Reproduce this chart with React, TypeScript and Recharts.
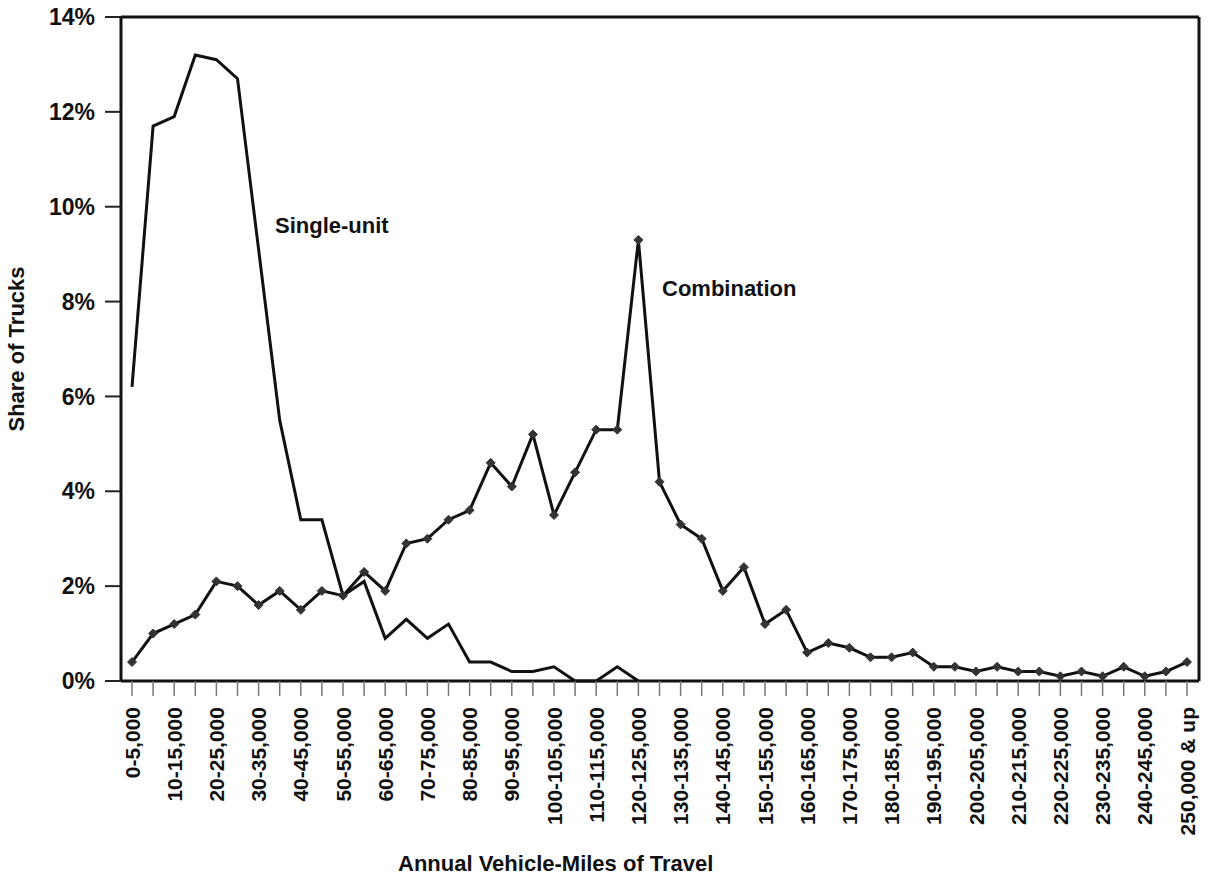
import { Line, LineChart, XAxis, YAxis } from "recharts";

const FONT = '"Liberation Sans", Arial, Helvetica, sans-serif';
const INK = "#111";

const CATEGORIES = [
  "0-5,000", "5-10,000", "10-15,000", "15-20,000", "20-25,000", "25-30,000",
  "30-35,000", "35-40,000", "40-45,000", "45-50,000", "50-55,000", "55-60,000",
  "60-65,000", "65-70,000", "70-75,000", "75-80,000", "80-85,000", "85-90,000",
  "90-95,000", "95-100,000", "100-105,000", "105-110,000", "110-115,000", "115-120,000",
  "120-125,000", "125-130,000", "130-135,000", "135-140,000", "140-145,000", "145-150,000",
  "150-155,000", "155-160,000", "160-165,000", "165-170,000", "170-175,000", "175-180,000",
  "180-185,000", "185-190,000", "190-195,000", "195-200,000", "200-205,000", "205-210,000",
  "210-215,000", "215-220,000", "220-225,000", "225-230,000", "230-235,000", "235-240,000",
  "240-245,000", "245-250,000", "250,000 & up",
];

// share of trucks, percent
const SINGLE_UNIT = [
  6.2, 11.7, 11.9, 13.2, 13.1, 12.7, 9.1, 5.5, 3.4, 3.4, 1.8, 2.1, 0.9,
  1.3, 0.9, 1.2, 0.4, 0.4, 0.2, 0.2, 0.3, 0, 0, 0.3, 0,
];

const COMBINATION = [
  0.4, 1.0, 1.2, 1.4, 2.1, 2.0, 1.6, 1.9, 1.5, 1.9, 1.8, 2.3, 1.9,
  2.9, 3.0, 3.4, 3.6, 4.6, 4.1, 5.2, 3.5, 4.4, 5.3, 5.3, 9.3, 4.2,
  3.3, 3.0, 1.9, 2.4, 1.2, 1.5, 0.6, 0.8, 0.7, 0.5, 0.5, 0.6, 0.3,
  0.3, 0.2, 0.3, 0.2, 0.2, 0.1, 0.2, 0.1, 0.3, 0.1, 0.2, 0.4,
];

const Y_TICKS = [0, 2, 4, 6, 8, 10, 12, 14];

const data = CATEGORIES.map((name, i) => ({
  name,
  single: i < SINGLE_UNIT.length ? SINGLE_UNIT[i] : null,
  combo: COMBINATION[i],
}));

function XTick(props: any) {
  const { x, y, payload, index } = props;
  // every category gets a tick mark, only every other one a label
  if (index % 2 !== 0) return <g />;
  return (
    <text
      x={x}
      y={y}
      transform={`rotate(-90, ${x}, ${y})`}
      textAnchor="end"
      dominantBaseline="central"
      fontSize={21}
      fontWeight="bold"
      fontFamily={FONT}
      fill={INK}
    >
      {payload.value}
    </text>
  );
}

function Diamond(props: any) {
  const { cx, cy } = props;
  if (cx == null || cy == null) return <g />;
  const r = 4.5;
  return (
    <path
      d={`M${cx},${cy - r}L${cx + r},${cy}L${cx},${cy + r}L${cx - r},${cy}Z`}
      fill="#333"
      stroke="#333"
      strokeWidth={1}
    />
  );
}

const textStyle: React.CSSProperties = {
  position: "absolute",
  fontFamily: FONT,
  fontWeight: "bold",
  fontSize: 22,
  lineHeight: "22px",
  color: INK,
  whiteSpace: "nowrap",
};

export default function App() {
  return (
    <div style={{ position: "absolute", left: 0, top: 0, width: 1208, height: 879, background: "#fff" }}>
      <LineChart width={1208} height={879} data={data} margin={{ top: 16, right: 8, left: 0, bottom: 0 }}>
        <XAxis
          dataKey="name"
          scale="point"
          interval={0}
          padding={{ left: 11, right: 12 }}
          height={198}
          tickSize={15}
          tickMargin={11}
          tick={<XTick />}
          tickLine={{ stroke: "#777", strokeWidth: 1.5 }}
          axisLine={{ stroke: INK, strokeWidth: 3 }}
        />
        <XAxis
          xAxisId="top"
          orientation="top"
          dataKey="name"
          scale="point"
          padding={{ left: 11, right: 12 }}
          height={1}
          tick={false}
          tickLine={false}
          axisLine={{ stroke: INK, strokeWidth: 3 }}
        />
        <YAxis
          domain={[0, 14]}
          ticks={Y_TICKS}
          width={121}
          tickSize={16}
          tickMargin={10}
          tickFormatter={(v) => `${v}%`}
          tick={{ fill: INK, fontSize: 23, fontWeight: "bold", fontFamily: FONT }}
          tickLine={{ stroke: "#222", strokeWidth: 2 }}
          axisLine={{ stroke: INK, strokeWidth: 3 }}
        />
        <YAxis
          yAxisId="right"
          orientation="right"
          domain={[0, 14]}
          width={1}
          tick={false}
          tickLine={false}
          axisLine={{ stroke: INK, strokeWidth: 3 }}
        />
        <Line
          dataKey="single"
          type="linear"
          stroke={INK}
          strokeWidth={3}
          dot={false}
          activeDot={false}
          connectNulls={false}
          isAnimationActive={false}
        />
        <Line
          dataKey="combo"
          type="linear"
          stroke={INK}
          strokeWidth={3}
          dot={(p: any) => <Diamond key={p.index} {...p} />}
          activeDot={false}
          isAnimationActive={false}
        />
      </LineChart>

      <div style={{ ...textStyle, left: 275, top: 215 }}>Single-unit</div>
      <div style={{ ...textStyle, left: 662, top: 278 }}>Combination</div>
      <div style={{ ...textStyle, left: 398, top: 853 }}>Annual Vehicle-Miles of Travel</div>
      <div
        style={{
          ...textStyle,
          left: 17,
          top: 349,
          transform: "translate(-50%, -50%) rotate(-90deg)",
        }}
      >
        Share of Trucks
      </div>
    </div>
  );
}
